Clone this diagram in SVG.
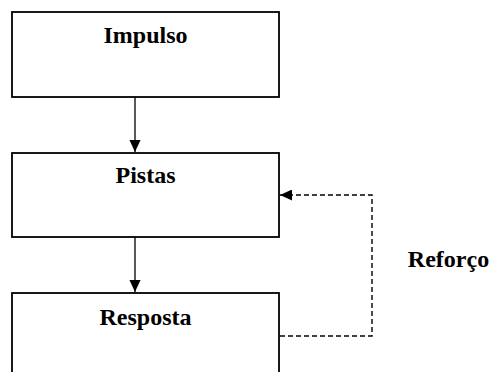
<svg xmlns="http://www.w3.org/2000/svg" width="492" height="372" viewBox="0 0 492 372">
<style>
.box{fill:#fff;stroke:#000;stroke-width:1.8}
.lbl{font-family:"Liberation Serif","Times New Roman",serif;font-weight:bold;font-size:24px;fill:#000;text-anchor:middle}
.ln{fill:none;stroke:#000;stroke-width:1.3}
.dash{fill:none;stroke:#000;stroke-width:1.4;stroke-dasharray:5 3}
</style>
<defs>
<marker id="ah" markerWidth="12" markerHeight="13" viewBox="0 0 13 12" refX="13" refY="6" orient="auto" markerUnits="userSpaceOnUse">
<path d="M0,0 L13,6 L0,12 Z" fill="#000"/>
</marker>
<marker id="ah2" markerWidth="12" markerHeight="11" viewBox="0 0 12 11" refX="12" refY="5.5" orient="auto" markerUnits="userSpaceOnUse">
<path d="M0,0 L12,5.5 L0,11 Z" fill="#000"/>
</marker>
</defs>
<g id="impulso">
<rect class="box" x="12" y="12" width="267" height="85"/>
<text class="lbl" x="145.5" y="43">Impulso</text>
</g>
<g id="pistas">
<rect class="box" x="12" y="153" width="267" height="84"/>
<text class="lbl" x="145.5" y="183">Pistas</text>
</g>
<g id="resposta">
<rect class="box" x="12" y="293" width="267" height="100"/>
<text class="lbl" x="145.5" y="325">Resposta</text>
</g>
<g id="connectors">
<line class="ln" x1="135" y1="97" x2="135" y2="152" marker-end="url(#ah)"/>
<line class="ln" x1="135" y1="237" x2="135" y2="292" marker-end="url(#ah)"/>
<polyline class="dash" points="280,336 372,336 372,195 280,195" marker-end="url(#ah2)"/>
</g>
<text class="lbl" x="448.5" y="267">Reforço</text>
</svg>
